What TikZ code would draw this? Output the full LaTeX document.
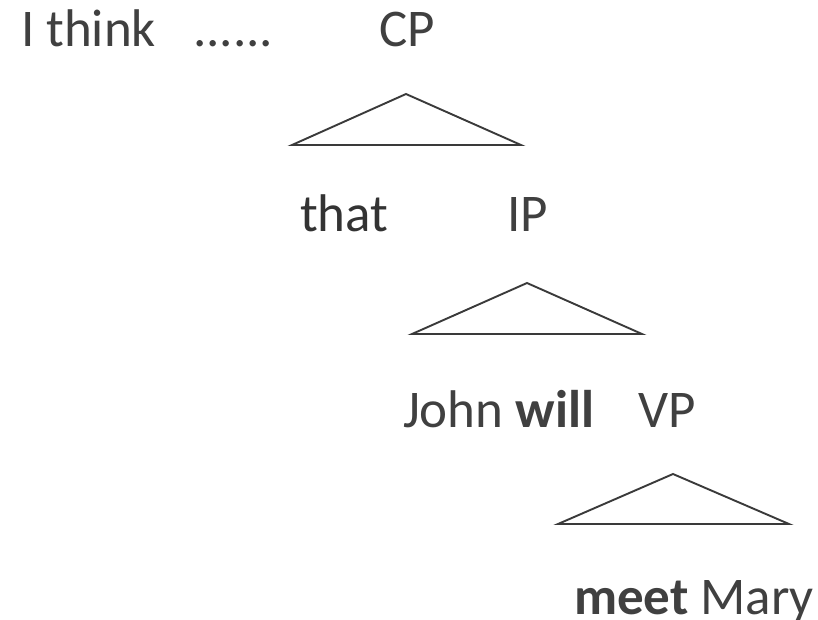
\documentclass[tikz,border=0pt]{standalone}
\usepackage{fontspec}
\setmainfont{Carlito}
\definecolor{txtgray}{HTML}{404040}
\definecolor{linegray}{HTML}{3A3A3A}
\begin{document}
\begin{tikzpicture}[x=1pt,y=-1pt,
  word/.style={anchor=base west,inner sep=0pt,outer sep=0pt,text=txtgray,font=\fontsize{53}{60}\selectfont},
  tri/.style={draw=linegray,line width=1.9pt,line join=miter}]
\useasboundingbox (0,0) rectangle (818,620);
\node[word] (ithink) at (21,47) {I think};
\node[word] (dots) at (193,47) {......};
\node[word] (cp) at (379,47) {CP};
\draw[tri] (406,94) coordinate (cpapex) -- (292,145) -- (521,145) -- cycle;
\node[word,text=black!80] (that) at (300,232) {that};
\node[word] (ip) at (507,232) {IP};
\draw[tri] (527,283) coordinate (ipapex) -- (412,334) -- (642,334) -- cycle;
\node[word] (johnwill) at (403,427) {John \textbf{will}};
\node[word] (vp) at (638,427) {VP};
\draw[tri] (673,474) coordinate (vpapex) -- (558,524) -- (789,524) -- cycle;
\node[word] (meetmary) at (574,614) {\textbf{meet} Mary};
\end{tikzpicture}
\end{document}
